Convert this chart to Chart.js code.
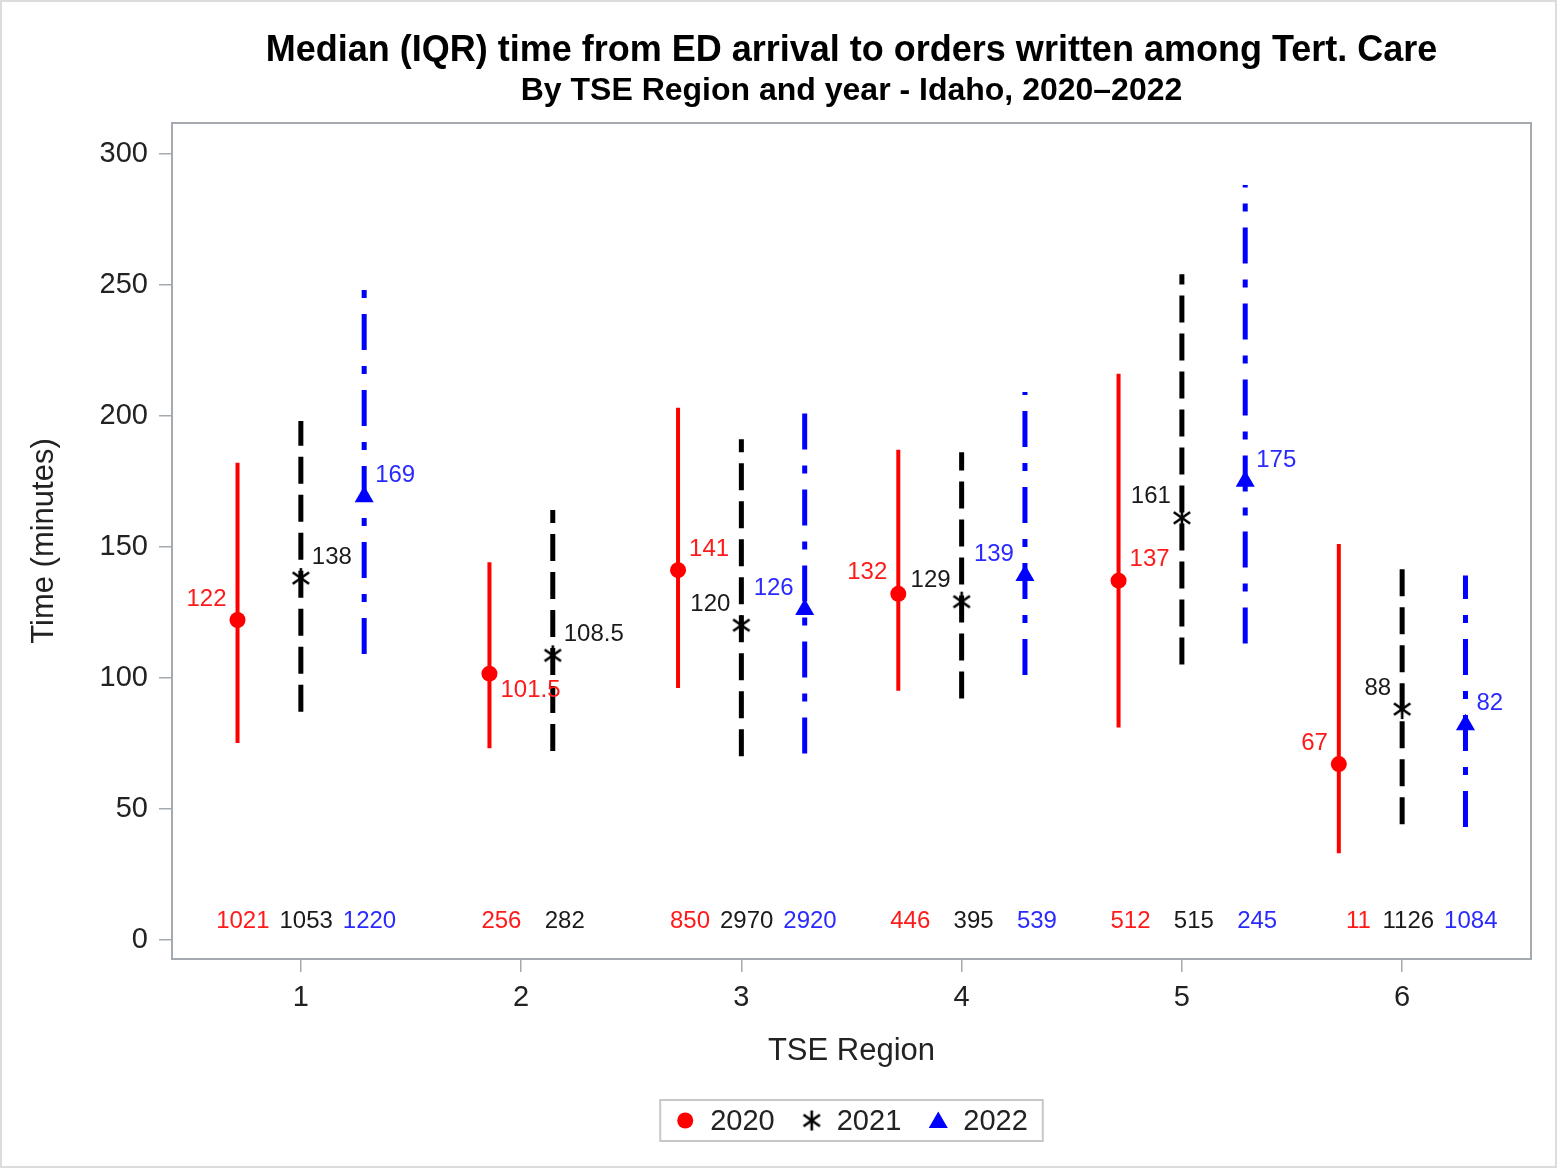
<!DOCTYPE html>
<html>
<head>
<meta charset="utf-8">
<title>Median (IQR) time from ED arrival to orders written</title>
<script src="https://cdn.jsdelivr.net/npm/chart.js@4.4.1/dist/chart.umd.min.js"></script>
<style>
  html, body { margin: 0; padding: 0; background: #fff; }
  #wrap { width: 1557px; height: 1168px; }
</style>
</head>
<body>
<div id="wrap"><canvas id="chart" width="1557" height="1168"></canvas></div>
<script>
// data
const regions = [1, 2, 3, 4, 5, 6];
const years = ['2020', '2021', '2022'];

const median2020 = [122, 101.5, 141, 132, 137, 67];
const q1_2020 = [75, 73, 96, 95, 81, 33];
const q3_2020 = [182, 144, 203, 187, 216, 151];
const n2020 = [1021, 256, 850, 446, 512, 11];

const median2021 = [138, 108.5, 120, 129, 161, 88];
const q1_2021 = [87, 72, 70, 92, 105, 44];
const q3_2021 = [198, 164, 191, 186, 254, 142];
const n2021 = [1053, 282, 2970, 395, 515, 1126];

const median2022 = [169, null, 126, 139, 175, 82];
const q1_2022 = [109, null, 71, 101, 113, 43];
const q3_2022 = [249, null, 204, 209, 288, 139];
const n2022 = [1220, null, 2920, 539, 245, 1084];

// where the median label sits next to its marker
const lab2020 = ['nw', 'se', 'ne', 'nw', 'ne', 'nw'];
const lab2021 = ['ne', 'ne', 'nw', 'nw', 'nw', 'nw'];
const lab2022 = ['ne', null, 'nw', 'nw', 'ne', 'ne'];

const xTicks = [1, 2, 3, 4, 5, 6];
const yTicks = [0, 50, 100, 150, 200, 250, 300];

const titleText = 'Median (IQR) time from ED arrival to orders written among Tert. Care';
const subtitleText = 'By TSE Region and year - Idaho, 2020\u20132022';

const FONT = "'Liberation Sans', Arial, sans-serif";
const AXIS_GRAY = '#a4aab0';
const clusterStep = 0.2875;
const nLabelY = 7;

function makeAsterisk(size, lw) {
    const c = document.createElement('canvas');
    c.width = size;
    c.height = size;
    const g = c.getContext('2d');
    g.strokeStyle = '#000';
    g.lineWidth = lw;
    g.translate(size / 2, size / 2);
    const r = size / 2 - 1;
    [90, 35, 145].forEach(a => {
        const rad = a * Math.PI / 180;
        g.beginPath();
        g.moveTo(-r * Math.cos(rad), -r * Math.sin(rad));
        g.lineTo(r * Math.cos(rad), r * Math.sin(rad));
        g.stroke();
    });
    return c;
}
const asterisk = makeAsterisk(22, 2.6);

const series = [
    { year: years[0], color: '#ff0000', text: '#ff1a1a', median: median2020, q1: q1_2020, q3: q3_2020, n: n2020, lab: lab2020,
      dash: [], width: 4, style: 'circle', radius: 8 },
    { year: years[1], color: '#000000', text: '#1a1a1a', median: median2021, q1: q1_2021, q3: q3_2021, n: n2021, lab: lab2021,
      dash: [27, 11], width: 5, style: asterisk, radius: 11 },
    { year: years[2], color: '#0000ff', text: '#2a2aff', median: median2022, q1: q1_2022, q3: q3_2022, n: n2022, lab: lab2022,
      dash: [36, 16, 8, 16], width: 5, style: 'triangle', radius: 11 },
];

// clustered x position of a series inside a region
function xPos(ri, si) {
    const present = series.filter(s => s.median[ri] != null);
    const i = present.indexOf(series[si]);
    return regions[ri] + (i - (present.length - 1) / 2) * clusterStep;
}

const datasets = [];
series.forEach((s, si) => {
    const pts = [];
    regions.forEach((r, ri) => {
        if (s.median[ri] == null) return;
        const x = xPos(ri, si);
        pts.push({ x: x, y: s.q1[ri] }, { x: x, y: s.q3[ri] }, { x: x, y: null });
    });
    datasets.push({
        label: s.year + ' IQR',
        data: pts,
        showLine: true,
        spanGaps: false,
        pointRadius: 0,
        borderColor: s.color,
        borderWidth: s.width,
        borderDash: s.dash,
        borderCapStyle: 'butt',
    });
});
series.forEach((s, si) => {
    const pts = [];
    regions.forEach((r, ri) => {
        if (s.median[ri] == null) return;
        pts.push({ x: xPos(ri, si), y: s.median[ri] });
    });
    datasets.push({
        label: s.year,
        data: pts,
        showLine: false,
        pointStyle: s.style,
        pointRadius: s.radius,
        backgroundColor: s.color,
        borderColor: s.color,
        borderWidth: 0,
    });
});

const decor = {
    id: 'decor',
    afterDatasetsDraw(chart) {
        const { ctx, scales: { x, y } } = chart;
        ctx.save();
        ctx.font = `24px ${FONT}`;
        series.forEach((s, si) => {
            ctx.fillStyle = s.text;
            regions.forEach((r, ri) => {
                if (s.median[ri] == null) return;
                const px = x.getPixelForValue(xPos(ri, si));
                const py = y.getPixelForValue(s.median[ri]);
                const pos = s.lab[ri];
                ctx.textBaseline = 'middle';
                ctx.textAlign = pos.endsWith('e') ? 'left' : 'right';
                const dx = pos.endsWith('e') ? 11 : -11;
                const dy = pos.startsWith('n') ? -21 : 17;
                ctx.fillText(String(s.median[ri]), px + dx, py + dy);
                // counts along the bottom
                ctx.textAlign = 'right';
                ctx.fillText(String(s.n[ri]), px + 32, y.getPixelForValue(nLabelY));
            });
        });
        ctx.restore();
    },
    afterDraw(chart) {
        const { ctx, chartArea: a } = chart;
        ctx.save();
        ctx.strokeStyle = AXIS_GRAY;
        ctx.lineWidth = 2;
        ctx.strokeRect(a.left, a.top, a.right - a.left, a.bottom - a.top);

        const cx = (a.left + a.right) / 2;
        ctx.fillStyle = '#000';
        ctx.textAlign = 'center';
        ctx.textBaseline = 'alphabetic';
        ctx.font = `bold 36px ${FONT}`;
        ctx.fillText(titleText, cx, 61);
        ctx.font = `bold 32px ${FONT}`;
        ctx.fillText(subtitleText, cx, 100);

        // legend
        ctx.font = `29px ${FONT}`;
        const padL = 25, symGap = 25, itemGap = 37, padR = 15;
        let w = padL + padR;
        series.forEach((s, i) => {
            w += symGap + ctx.measureText(s.year).width;
            if (i < series.length - 1) w += itemGap;
        });
        const lx = cx - w / 2, ly = 1100, lh = 41, my = ly + lh / 2;
        ctx.strokeStyle = '#c8c8c8';
        ctx.lineWidth = 2;
        ctx.strokeRect(lx, ly, w, lh);
        let cur = lx + padL;
        series.forEach((s, i) => {
            ctx.fillStyle = s.color;
            if (s.style === 'circle') {
                ctx.beginPath();
                ctx.arc(cur, my, 8, 0, Math.PI * 2);
                ctx.fill();
            } else if (s.style === 'triangle') {
                const r = 11;
                ctx.beginPath();
                for (let k = 0; k < 3; k++) {
                    const rad = k * 2 * Math.PI / 3;
                    const px = cur + Math.sin(rad) * r, py = my - Math.cos(rad) * r + 2;
                    if (k === 0) ctx.moveTo(px, py); else ctx.lineTo(px, py);
                }
                ctx.closePath();
                ctx.fill();
            } else {
                ctx.drawImage(s.style, cur - s.style.width / 2, my - s.style.height / 2);
            }
            ctx.fillStyle = '#222';
            ctx.textAlign = 'left';
            ctx.textBaseline = 'middle';
            const tx = cur + symGap;
            ctx.fillText(s.year, tx, my + 1);
            cur = tx + ctx.measureText(s.year).width + itemGap;
        });

        ctx.strokeStyle = '#dcdcdc';
        ctx.lineWidth = 2;
        ctx.strokeRect(1, 1, chart.width - 2, chart.height - 2);
        ctx.restore();
    }
};

new Chart(document.getElementById('chart'), {
    type: 'scatter',
    data: { datasets: datasets },
    options: {
        responsive: false,
        animation: false,
        layout: { padding: { top: 123, right: 26, bottom: 89, left: 0 } },
        plugins: {
            legend: { display: false },
            title: { display: false },
            tooltip: { enabled: false },
        },
        scales: {
            x: {
                type: 'linear',
                min: 0.415,
                max: 6.585,
                afterBuildTicks: axis => { axis.ticks = xTicks.map(v => ({ value: v })); },
                afterFit: axis => { axis.height = 120; },
                ticks: { font: { family: FONT, size: 29 }, color: '#222', padding: 9 },
                grid: { drawOnChartArea: false, tickLength: 13, color: AXIS_GRAY, lineWidth: 1.5 },
                border: { color: AXIS_GRAY, width: 2 },
                title: { display: true, text: 'TSE Region', color: '#222',
                         font: { family: FONT, size: 31 }, padding: { top: 0, bottom: 9 } },
            },
            y: {
                type: 'linear',
                min: -7.4,
                max: 311.7,
                afterBuildTicks: axis => { axis.ticks = yTicks.map(v => ({ value: v })); },
                afterFit: axis => { axis.width = 172; },
                ticks: { font: { family: FONT, size: 29 }, color: '#222', padding: 11 },
                grid: { drawOnChartArea: false, tickLength: 13, color: AXIS_GRAY, lineWidth: 1.5 },
                border: { color: AXIS_GRAY, width: 2 },
                title: { display: true, text: 'Time (minutes)', color: '#222',
                         font: { family: FONT, size: 31 }, padding: { top: 26, bottom: 0 } },
            },
        },
    },
    plugins: [decor],
});
</script>
</body>
</html>
